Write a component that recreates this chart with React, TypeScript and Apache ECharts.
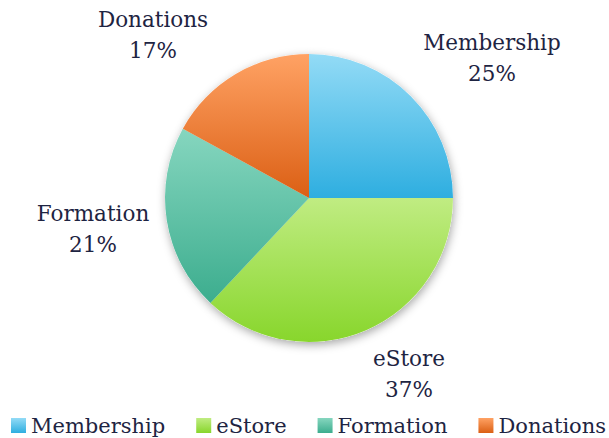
import React, { useEffect, useRef } from "react";
import * as echarts from "echarts";

const categories = ["Membership", "eStore", "Formation", "Donations"];
const values = [25, 37, 21, 17];
const topColors = ["#93DBF6", "#C0EC82", "#86D6BF", "#FFA264"];
const bottomColors = ["#2EAEE0", "#88D62C", "#3CAD8E", "#DB5F14"];
const labelPositions: [number, number][] = [
  [492, 58],
  [409, 374],
  [93, 229],
  [153, 35],
];

const TEXT_COLOR = "#1E2442";
const FONT = "DejaVu Serif";

export default function App() {
  const ref = useRef<HTMLDivElement>(null);
  useEffect(() => {
    if (!ref.current) return;
    const chart = echarts.init(ref.current, null, { renderer: "svg" });
    const grad = (i: number) =>
      new echarts.graphic.LinearGradient(0, 0, 0, 1, [
        { offset: 0, color: topColors[i] },
        { offset: 1, color: bottomColors[i] },
      ]);
    const data = categories.map((name, i) => ({
      name,
      value: values[i],
      itemStyle: { color: grad(i) },
    }));
    chart.setOption({
      animation: false,
      backgroundColor: "#ffffff",
      textStyle: { fontFamily: FONT, color: TEXT_COLOR },
      legend: {
        data: categories,
        bottom: 2,
        left: 11,
        width: 598,
        padding: 0,
        itemWidth: 15,
        itemHeight: 15,
        itemGap: 31,
        icon: "rect",
        formatter: (name: string) => "{t|" + name + "}",
        textStyle: {
          fontFamily: FONT,
          fontSize: 21,
          color: TEXT_COLOR,
          rich: { t: { fontFamily: FONT, fontSize: 21, color: TEXT_COLOR } },
        },
        selectedMode: false,
      },
      series: [
        {
          type: "pie",
          z: 1,
          silent: true,
          center: [309, 198],
          radius: 144,
          data: categories.map((name, i) => ({
            name: name + "_s",
            value: values[i],
          })),
          itemStyle: {
            color: "#ffffff",
            shadowBlur: 10,
            shadowColor: "rgba(0,0,0,0.35)",
            shadowOffsetX: 1,
            shadowOffsetY: 3,
          },
          label: { show: false },
          labelLine: { show: false },
        },
        {
          type: "pie",
          z: 2,
          center: [309, 198],
          radius: 144,
          startAngle: 90,
          clockwise: true,
          data,
          itemStyle: { borderWidth: 0 },
          label: {
            show: true,
            position: "outside",
            formatter: "{b}\n{d}%",
            fontFamily: FONT,
            fontSize: 21.5,
            lineHeight: 31,
            color: TEXT_COLOR,
            align: "center",
            overflow: "none",
            width: 200,
          },
          labelLine: { show: false },
          labelLayout: (params: any) => {
            const p = labelPositions[params.dataIndex];
            return { x: p[0], y: p[1], align: "center", verticalAlign: "middle" };
          },
        },
      ],
    });
    return () => chart.dispose();
  }, []);
  return (
    <div
      ref={ref}
      style={{ position: "fixed", left: 0, top: 0, width: 609, height: 438 }}
    />
  );
}
